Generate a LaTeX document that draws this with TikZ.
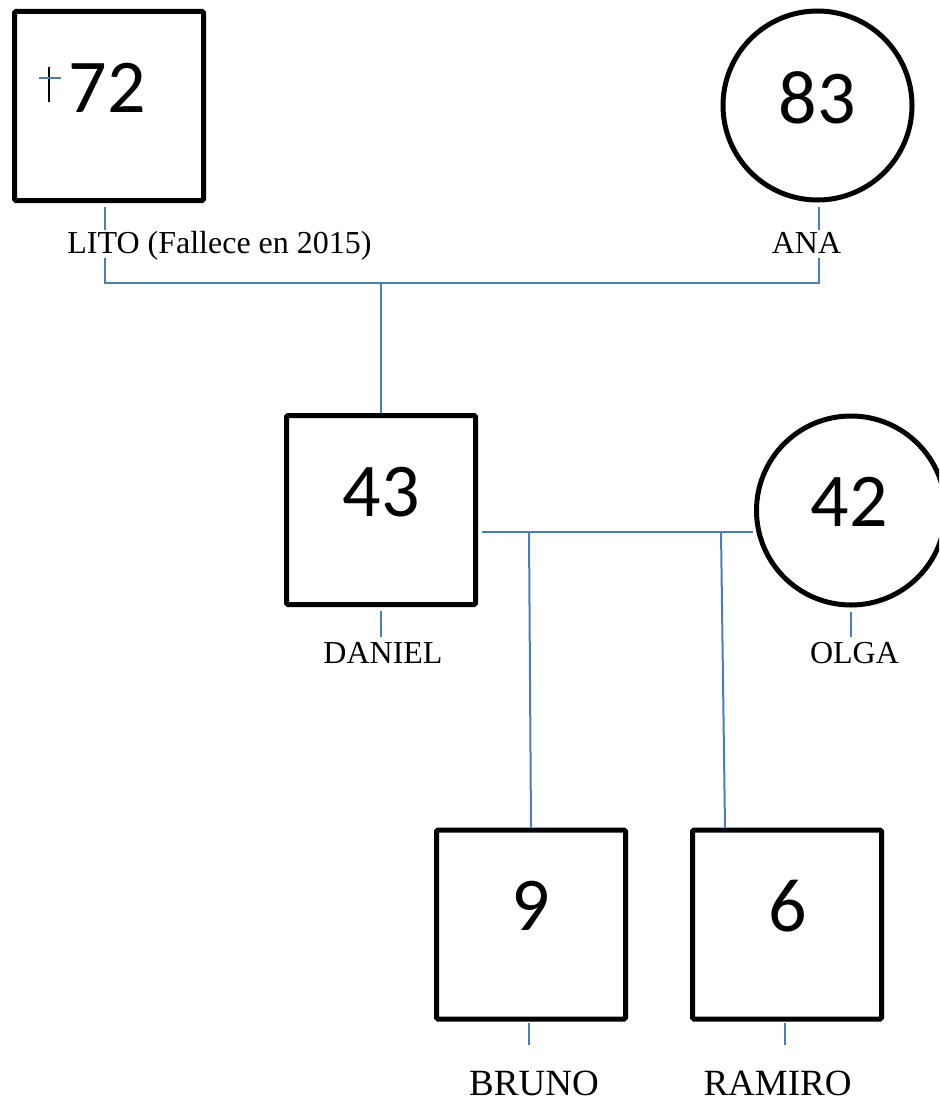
\documentclass[tikz,border=0pt]{standalone}
\usepackage{fontspec}
\setmainfont{Liberation Serif}
\newfontfamily\numfont{Carlito}
\usetikzlibrary{calc}
\definecolor{linkblue}{RGB}{74,126,187}
\begin{document}
\begin{tikzpicture}[x=1pt,y=-1pt,
  person/.style={draw=black,line width=5pt,minimum size=189pt,inner sep=0pt,fill=white},
  male/.style={person,rectangle,rounded corners=1.5pt},
  female/.style={person,circle},
  age/.style={font=\numfont\fontsize{76}{80}\selectfont,inner sep=0pt},
  pname/.style={font=\fontsize{32}{36}\selectfont,inner sep=0pt,anchor=base,text height=23pt,text depth=5pt,fill=white},
  pnamebig/.style={pname,font=\fontsize{37}{42}\selectfont},
  link/.style={draw=linkblue,line width=2pt}]
\useasboundingbox (0,0) rectangle (939,1102);
\clip (0,0) rectangle (939,1102);
% persons
\node[male] (lito) at (109,106) {};
\node[female] (ana) at (817.5,105.5) {};
\node[male] (daniel) at (381,510) {};
\node[female] (olga) at (851,510.5) {};
\node[male] (bruno) at (531,924.5) {};
\node[male] (ramiro) at (787,924.5) {};
% ages
\node[age] (a72) at (107.5,87.5) {72};
\node[age] (a83) at (817,97.5) {83};
\node[age] (a43) at (381,492.5) {43};
\node[age] (a42) at (849,502) {42};
\node[age] (a9) at (531,906) {9};
\node[age] (a6) at (787.5,906) {6};
% cross
\draw[line width=2pt] (49,67) -- (49,102);
\draw[link] (39,78) -- (61,78);
% parents link
\coordinate (jL) at (105,283);
\coordinate (jR) at (819,283);
\coordinate (jD) at (381,283);
\draw[link] ([xshift=-4pt,yshift=-4pt]lito.south) -- (jL) -- (jR) -- ([xshift=1.5pt,yshift=-4pt]ana.south);
\draw[link] (jD) -- (daniel.north);
% couple link
\coordinate (mL) at (482,532);
\coordinate (mR) at (753,532);
\draw[link] (mL) -- (mR);
\coordinate (k1) at (529,532);
\coordinate (k2) at (721,532);
\draw[link] (k1) -- (bruno.north);
\draw[link] (k2) -- ($(ramiro.north)+(-62,0)$);
% stubs
\coordinate (ds) at (381,637);
\coordinate (os) at (851,637);
\coordinate (bs) at (529,1045);
\coordinate (rs) at (785,1045);
\draw[link] ([yshift=-4pt]daniel.south) -- (ds);
\draw[link] ([yshift=-4pt]olga.south) -- (os);
\draw[link] ([xshift=-2pt,yshift=-1pt]bruno.south) -- (bs);
\draw[link] ([xshift=-2pt,yshift=-1pt]ramiro.south) -- (rs);
% names
\node[pname] (litoname) at (219.5,253) {LITO (Fallece en 2015)};
\node[pname] (ananame) at (806.5,253) {ANA};
\node[pname] (danielname) at (383,663) {DANIEL};
\node[pname] (olganame) at (854.5,663) {OLGA};
\node[pnamebig] (brunoname) at (534,1095) {BRUNO};
\node[pnamebig] (ramironame) at (777.5,1095) {RAMIRO};
\end{tikzpicture}
\end{document}
